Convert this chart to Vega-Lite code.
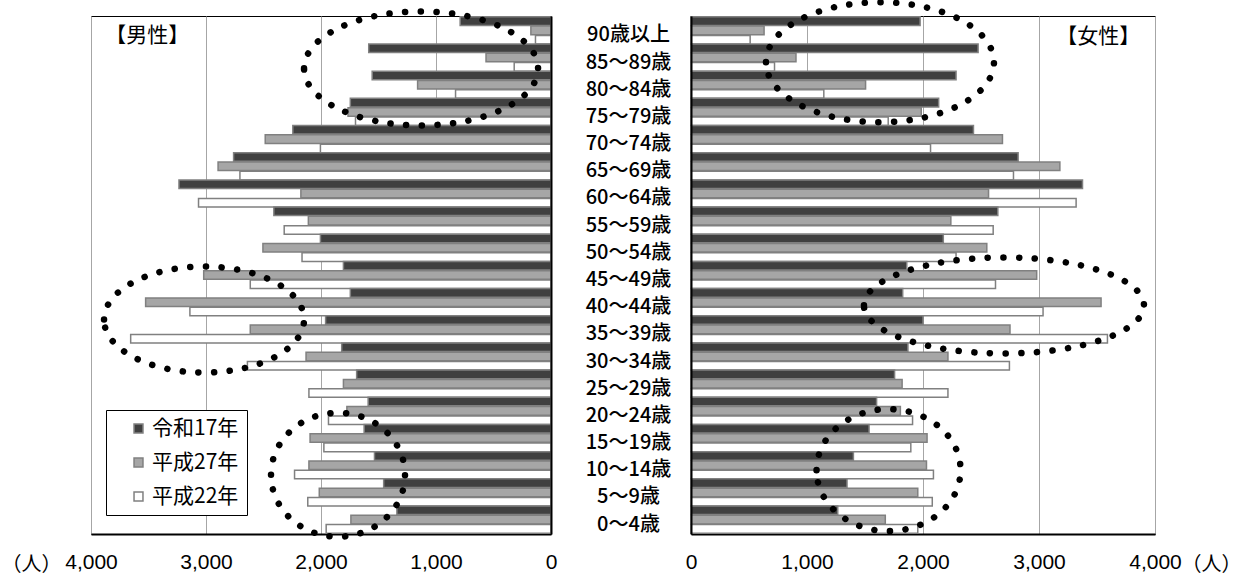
{
  "$schema": "https://vega.github.io/schema/vega-lite/v6.json",
  "padding": {"left": 0, "top": -2, "right": 0, "bottom": 0},
  "background": "white",
  "bounds": "flush",
  "spacing": 140,
  "config": {
    "view": {"stroke": "#000000", "strokeWidth": 1},
    "axis": {"labelFont": "Liberation Sans", "labelFontSize": 21, "labelColor": "#000000", "titleFont": "Noto Sans CJK JP", "titleFontWeight": "normal", "titleFontSize": 20, "titleColor": "#000000"},
    "legend": {
      "symbolType": "square", "symbolSize": 80, "symbolStrokeColor": "#808080", "symbolStrokeWidth": 1.5,
      "labelFont": "Noto Sans CJK JP", "labelFontSize": 21, "labelColor": "#000000",
      "strokeColor": "#000000", "fillColor": "#ffffff", "padding": 8, "rowPadding": 12, "symbolOffset": 14, "labelOffset": 3
    }
  },
  "datasets": {
    "pop": [
      {"sex":"男性","age":"90歳以上","year":"令和17年","value":790},{"sex":"男性","age":"90歳以上","year":"平成27年","value":175},{"sex":"男性","age":"90歳以上","year":"平成22年","value":135},
      {"sex":"男性","age":"85～89歳","year":"令和17年","value":1585},{"sex":"男性","age":"85～89歳","year":"平成27年","value":565},{"sex":"男性","age":"85～89歳","year":"平成22年","value":320},
      {"sex":"男性","age":"80～84歳","year":"令和17年","value":1555},{"sex":"男性","age":"80～84歳","year":"平成27年","value":1160},{"sex":"男性","age":"80～84歳","year":"平成22年","value":830},
      {"sex":"男性","age":"75～79歳","year":"令和17年","value":1745},{"sex":"男性","age":"75～79歳","year":"平成27年","value":1765},{"sex":"男性","age":"75～79歳","year":"平成22年","value":1700},
      {"sex":"男性","age":"70～74歳","year":"令和17年","value":2245},{"sex":"男性","age":"70～74歳","year":"平成27年","value":2485},{"sex":"男性","age":"70～74歳","year":"平成22年","value":2005},
      {"sex":"男性","age":"65～69歳","year":"令和17年","value":2760},{"sex":"男性","age":"65～69歳","year":"平成27年","value":2895},{"sex":"男性","age":"65～69歳","year":"平成22年","value":2705},
      {"sex":"男性","age":"60～64歳","year":"令和17年","value":3235},{"sex":"男性","age":"60～64歳","year":"平成27年","value":2175},{"sex":"男性","age":"60～64歳","year":"平成22年","value":3065},
      {"sex":"男性","age":"55～59歳","year":"令和17年","value":2410},{"sex":"男性","age":"55～59歳","year":"平成27年","value":2110},{"sex":"男性","age":"55～59歳","year":"平成22年","value":2320},
      {"sex":"男性","age":"50～54歳","year":"令和17年","value":2005},{"sex":"男性","age":"50～54歳","year":"平成27年","value":2505},{"sex":"男性","age":"50～54歳","year":"平成22年","value":2165},
      {"sex":"男性","age":"45～49歳","year":"令和17年","value":1805},{"sex":"男性","age":"45～49歳","year":"平成27年","value":3020},{"sex":"男性","age":"45～49歳","year":"平成22年","value":2615},
      {"sex":"男性","age":"40～44歳","year":"令和17年","value":1745},{"sex":"男性","age":"40～44歳","year":"平成27年","value":3525},{"sex":"男性","age":"40～44歳","year":"平成22年","value":3140},
      {"sex":"男性","age":"35～39歳","year":"令和17年","value":1960},{"sex":"男性","age":"35～39歳","year":"平成27年","value":2615},{"sex":"男性","age":"35～39歳","year":"平成22年","value":3655},
      {"sex":"男性","age":"30～34歳","year":"令和17年","value":1820},{"sex":"男性","age":"30～34歳","year":"平成27年","value":2130},{"sex":"男性","age":"30～34歳","year":"平成22年","value":2640},
      {"sex":"男性","age":"25～29歳","year":"令和17年","value":1690},{"sex":"男性","age":"25～29歳","year":"平成27年","value":1805},{"sex":"男性","age":"25～29歳","year":"平成22年","value":2105},
      {"sex":"男性","age":"20～24歳","year":"令和17年","value":1590},{"sex":"男性","age":"20～24歳","year":"平成27年","value":1775},{"sex":"男性","age":"20～24歳","year":"平成22年","value":1935},
      {"sex":"男性","age":"15～19歳","year":"令和17年","value":1625},{"sex":"男性","age":"15～19歳","year":"平成27年","value":2095},{"sex":"男性","age":"15～19歳","year":"平成22年","value":1975},
      {"sex":"男性","age":"10～14歳","year":"令和17年","value":1535},{"sex":"男性","age":"10～14歳","year":"平成27年","value":2105},{"sex":"男性","age":"10～14歳","year":"平成22年","value":2230},
      {"sex":"男性","age":"5～9歳","year":"令和17年","value":1455},{"sex":"男性","age":"5～9歳","year":"平成27年","value":2015},{"sex":"男性","age":"5～9歳","year":"平成22年","value":2115},
      {"sex":"男性","age":"0～4歳","year":"令和17年","value":1340},{"sex":"男性","age":"0～4歳","year":"平成27年","value":1740},{"sex":"男性","age":"0～4歳","year":"平成22年","value":1955},
      {"sex":"女性","age":"90歳以上","year":"令和17年","value":1975},{"sex":"女性","age":"90歳以上","year":"平成27年","value":630},{"sex":"女性","age":"90歳以上","year":"平成22年","value":510},
      {"sex":"女性","age":"85～89歳","year":"令和17年","value":2475},{"sex":"女性","age":"85～89歳","year":"平成27年","value":905},{"sex":"女性","age":"85～89歳","year":"平成22年","value":720},
      {"sex":"女性","age":"80～84歳","year":"令和17年","value":2285},{"sex":"女性","age":"80～84歳","year":"平成27年","value":1505},{"sex":"女性","age":"80～84歳","year":"平成22年","value":1145},
      {"sex":"女性","age":"75～79歳","year":"令和17年","value":2135},{"sex":"女性","age":"75～79歳","year":"平成27年","value":1985},{"sex":"女性","age":"75～79歳","year":"平成22年","value":1700},
      {"sex":"女性","age":"70～74歳","year":"令和17年","value":2435},{"sex":"女性","age":"70～74歳","year":"平成27年","value":2685},{"sex":"女性","age":"70～74歳","year":"平成22年","value":2065},
      {"sex":"女性","age":"65～69歳","year":"令和17年","value":2820},{"sex":"女性","age":"65～69歳","year":"平成27年","value":3180},{"sex":"女性","age":"65～69歳","year":"平成22年","value":2780},
      {"sex":"女性","age":"60～64歳","year":"令和17年","value":3375},{"sex":"女性","age":"60～64歳","year":"平成27年","value":2565},{"sex":"女性","age":"60～64歳","year":"平成22年","value":3320},
      {"sex":"女性","age":"55～59歳","year":"令和17年","value":2645},{"sex":"女性","age":"55～59歳","year":"平成27年","value":2240},{"sex":"女性","age":"55～59歳","year":"平成22年","value":2605},
      {"sex":"女性","age":"50～54歳","year":"令和17年","value":2175},{"sex":"女性","age":"50～54歳","year":"平成27年","value":2550},{"sex":"女性","age":"50～54歳","year":"平成22年","value":2285},
      {"sex":"女性","age":"45～49歳","year":"令和17年","value":1860},{"sex":"女性","age":"45～49歳","year":"平成27年","value":2980},{"sex":"女性","age":"45～49歳","year":"平成22年","value":2625},
      {"sex":"女性","age":"40～44歳","year":"令和17年","value":1825},{"sex":"女性","age":"40～44歳","year":"平成27年","value":3535},{"sex":"女性","age":"40～44歳","year":"平成22年","value":3035},
      {"sex":"女性","age":"35～39歳","year":"令和17年","value":2000},{"sex":"女性","age":"35～39歳","year":"平成27年","value":2750},{"sex":"女性","age":"35～39歳","year":"平成22年","value":3590},
      {"sex":"女性","age":"30～34歳","year":"令和17年","value":1870},{"sex":"女性","age":"30～34歳","year":"平成27年","value":2215},{"sex":"女性","age":"30～34歳","year":"平成22年","value":2745},
      {"sex":"女性","age":"25～29歳","year":"令和17年","value":1755},{"sex":"女性","age":"25～29歳","year":"平成27年","value":1820},{"sex":"女性","age":"25～29歳","year":"平成22年","value":2215},
      {"sex":"女性","age":"20～24歳","year":"令和17年","value":1600},{"sex":"女性","age":"20～24歳","year":"平成27年","value":1805},{"sex":"女性","age":"20～24歳","year":"平成22年","value":1910},
      {"sex":"女性","age":"15～19歳","year":"令和17年","value":1535},{"sex":"女性","age":"15～19歳","year":"平成27年","value":2035},{"sex":"女性","age":"15～19歳","year":"平成22年","value":1895},
      {"sex":"女性","age":"10～14歳","year":"令和17年","value":1400},{"sex":"女性","age":"10～14歳","year":"平成27年","value":2030},{"sex":"女性","age":"10～14歳","year":"平成22年","value":2090},
      {"sex":"女性","age":"5～9歳","year":"令和17年","value":1345},{"sex":"女性","age":"5～9歳","year":"平成27年","value":1955},{"sex":"女性","age":"5～9歳","year":"平成22年","value":2080},
      {"sex":"女性","age":"0～4歳","year":"令和17年","value":1265},{"sex":"女性","age":"0～4歳","year":"平成27年","value":1675},{"sex":"女性","age":"0～4歳","year":"平成22年","value":1955}
    ]
  },
  "resolve": {"legend": {"color": "independent"}},
  "hconcat": [
    {
      "width": 460,
      "height": 518,
      "layer": [
        {
          "data": {"name": "pop"},
          "transform": [{"filter": "datum.sex === '男性'"}],
          "mark": {"type": "bar", "stroke": "#808080", "strokeWidth": 1.5},
          "encoding": {
            "y": {"field": "age", "type": "nominal",
              "scale": {"domain": ["90歳以上","85～89歳","80～84歳","75～79歳","70～74歳","65～69歳","60～64歳","55～59歳","50～54歳","45～49歳","40～44歳","35～39歳","30～34歳","25～29歳","20～24歳","15～19歳","10～14歳","5～9歳","0～4歳"], "paddingInner": 0, "paddingOuter": 0.03},
              "axis": {"orient": "right", "labels": false, "ticks": false, "tickSize": 0, "domainColor": "#000000", "domainWidth": 2, "title": null, "zindex": 1}},
            "yOffset": {"field": "year", "type": "nominal", "scale": {"domain": ["令和17年","平成27年","平成22年"], "paddingInner": 0.08}},
            "x": {"field": "value", "type": "quantitative",
              "scale": {"domain": [0, 4000], "reverse": true, "nice": false},
              "axis": {"values": [0, 1000, 2000, 3000, 4000], "format": ",d", "ticks": false, "tickSize": 0, "labelPadding": 17, "labelBaseline": "top", "grid": true, "gridColor": "#a6a6a6", "gridWidth": 1, "domainColor": "#000000", "domainWidth": 2, "labelOverlap": false, "labelFlush": false,
                "title": "（人）", "titleX": -60, "titleY": 30, "titleAlign": "center", "titleBaseline": "middle"}},
            "color": {"field": "year", "type": "nominal",
              "scale": {"domain": ["令和17年","平成27年","平成22年"], "range": ["#404040", "#a6a6a6", "#ffffff"]},
              "legend": {"title": null, "orient": "none", "legendX": 15, "legendY": 394, "direction": "vertical"}}
          }
        },
        {
          "data": {"values": [{}]},
          "mark": {"type": "text", "font": "Noto Sans CJK JP", "fontSize": 21, "color": "#000000", "align": "center", "baseline": "middle"},
          "encoding": {
            "x": {"datum": 3510, "type": "quantitative"},
            "y": {"datum": "90歳以上", "type": "nominal", "bandPosition": 0.7},
            "text": {"value": "【男性】"}
          }
        },
        {
          "data": {"values": [{}]},
          "mark": {"type": "point", "filled": false, "opacity": 1, "stroke": "#000000", "strokeWidth": 6.5, "strokeCap": "round", "strokeJoin": "round", "strokeDash": [0.1, 15.5], "size": 54756,
            "shape": "M-1,0C-1,-0.269,-0.5523,-0.487,0,-0.487C0.5523,-0.487,1,-0.269,1,0C1,0.269,0.5523,0.487,0,0.487C-0.5523,0.487,-1,0.269,-1,0Z"},
          "encoding": {
            "x": {"datum": 1130, "type": "quantitative"},
            "y": {"datum": "85～89歳", "type": "nominal", "bandPosition": 0.9}
          }
        },
        {
          "data": {"values": [{}]},
          "mark": {"type": "point", "filled": false, "opacity": 1, "stroke": "#000000", "strokeWidth": 6.5, "strokeCap": "round", "strokeJoin": "round", "strokeDash": [0.1, 15.5], "size": 40000,
            "shape": "M-1,0C-1,-0.293,-0.5523,-0.53,0,-0.53C0.5523,-0.53,1,-0.293,1,0C1,0.293,0.5523,0.53,0,0.53C-0.5523,0.53,-1,0.293,-1,0Z"},
          "encoding": {
            "x": {"datum": 3017, "type": "quantitative"},
            "y": {"datum": "35～39歳", "type": "nominal", "bandPosition": 0.14}
          }
        },
        {
          "data": {"values": [{}]},
          "mark": {"type": "point", "filled": false, "opacity": 1, "stroke": "#000000", "strokeWidth": 6.5, "strokeCap": "round", "strokeJoin": "round", "strokeDash": [0.1, 15.5], "size": 17956,
            "shape": "M-1,0C-1,-0.511,-0.5523,-0.925,0,-0.925C0.5523,-0.925,1,-0.511,1,0C1,0.511,0.5523,0.925,0,0.925C-0.5523,0.925,-1,0.511,-1,0Z"},
          "encoding": {
            "x": {"datum": 1852, "type": "quantitative"},
            "y": {"datum": "10～14歳", "type": "nominal", "bandPosition": 0.85}
          }
        }
      ]
    },
    {
      "width": 464,
      "height": 518,
      "layer": [
        {
          "data": {"name": "pop"},
          "transform": [{"filter": "datum.sex === '女性'"}],
          "mark": {"type": "bar", "stroke": "#808080", "strokeWidth": 1.5},
          "encoding": {
            "y": {"field": "age", "type": "nominal",
              "scale": {"domain": ["90歳以上","85～89歳","80～84歳","75～79歳","70～74歳","65～69歳","60～64歳","55～59歳","50～54歳","45～49歳","40～44歳","35～39歳","30～34歳","25～29歳","20～24歳","15～19歳","10～14歳","5～9歳","0～4歳"], "paddingInner": 0, "paddingOuter": 0.03},
              "axis": {"orient": "left", "ticks": false, "tickSize": 0, "labelPadding": 63, "labelAlign": "center", "labelOffset": 5, "labelFont": "Noto Sans CJK JP", "labelFontSize": 20, "labelFontWeight": 500, "labelColor": "#000000", "domainColor": "#000000", "domainWidth": 2, "title": null, "zindex": 1}},
            "yOffset": {"field": "year", "type": "nominal", "scale": {"domain": ["令和17年","平成27年","平成22年"], "paddingInner": 0.08}},
            "x": {"field": "value", "type": "quantitative",
              "scale": {"domain": [0, 4000], "nice": false},
              "axis": {"values": [0, 1000, 2000, 3000, 4000], "format": ",d", "ticks": false, "tickSize": 0, "labelPadding": 17, "labelBaseline": "top", "grid": true, "gridColor": "#a6a6a6", "gridWidth": 1, "domainColor": "#000000", "domainWidth": 2, "labelOverlap": false, "labelFlush": false,
                "title": "（人）", "titleX": 520, "titleY": 30, "titleAlign": "center", "titleBaseline": "middle"}},
            "color": {"field": "year", "type": "nominal",
              "scale": {"domain": ["令和17年","平成27年","平成22年"], "range": ["#404040", "#a6a6a6", "#ffffff"]},
              "legend": null}
          }
        },
        {
          "data": {"values": [{}]},
          "mark": {"type": "text", "font": "Noto Sans CJK JP", "fontSize": 21, "color": "#000000", "align": "center", "baseline": "middle"},
          "encoding": {
            "x": {"datum": 3510, "type": "quantitative"},
            "y": {"datum": "90歳以上", "type": "nominal", "bandPosition": 0.75},
            "text": {"value": "【女性】"}
          }
        },
        {
          "data": {"values": [{}]},
          "mark": {"type": "point", "filled": false, "opacity": 1, "stroke": "#000000", "strokeWidth": 6.5, "strokeCap": "round", "strokeJoin": "round", "strokeDash": [0.1, 15.5], "size": 51984,
            "shape": "M-1,0C-1,-0.291,-0.5523,-0.526,0,-0.526C0.5523,-0.526,1,-0.291,1,0C1,0.291,0.5523,0.526,0,0.526C-0.5523,0.526,-1,0.291,-1,0Z"},
          "encoding": {
            "x": {"datum": 1629, "type": "quantitative"},
            "y": {"datum": "85～89歳", "type": "nominal", "bandPosition": 0.67}
          }
        },
        {
          "data": {"values": [{}]},
          "mark": {"type": "point", "filled": false, "opacity": 1, "stroke": "#000000", "strokeWidth": 6.5, "strokeCap": "round", "strokeJoin": "round", "strokeDash": [0.1, 15.5], "size": 78400,
            "shape": "M-1,0C-1,-0.189,-0.5523,-0.343,0,-0.343C0.5523,-0.343,1,-0.189,1,0C1,0.189,0.5523,0.343,0,0.343C-0.5523,0.343,-1,0.189,-1,0Z"},
          "encoding": {
            "x": {"datum": 2698, "type": "quantitative"},
            "y": {"datum": "40～44歳", "type": "nominal", "bandPosition": 0.62}
          }
        },
        {
          "data": {"values": [{}]},
          "mark": {"type": "point", "filled": false, "opacity": 1, "stroke": "#000000", "strokeWidth": 6.5, "strokeCap": "round", "strokeJoin": "round", "strokeDash": [0.1, 15.5], "size": 20736,
            "shape": "M-1,0C-1,-0.468,-0.5523,-0.847,0,-0.847C0.5523,-0.847,1,-0.468,1,0C1,0.468,0.5523,0.847,0,0.847C-0.5523,0.847,-1,0.468,-1,0Z"},
          "encoding": {
            "x": {"datum": 1703, "type": "quantitative"},
            "y": {"datum": "10～14歳", "type": "nominal", "bandPosition": 0.68}
          }
        }
      ]
    }
  ]
}
